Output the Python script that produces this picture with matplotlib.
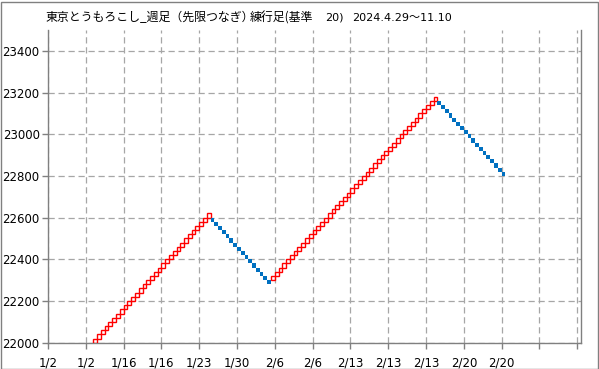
import numpy as np
import matplotlib
matplotlib.use("Agg")
import matplotlib.pyplot as plt
from matplotlib.patches import Rectangle

# 練行足 (renko) data: brick size 20, legs given by first / last brick low
brick_size = 20
leg_first_low = [22000, 22580, 22300, 23140]
leg_last_low = [22600, 22280, 23160, 22800]
leg_up = [True, False, True, False]
first_col = 12

xtick_pos = list(range(0, 141, 10))
xtick_labels = ["1/2", "1/2", "1/16", "1/16", "1/23", "1/30", "2/6", "2/6",
                "2/13", "2/13", "2/13", "2/20", "2/20", "", ""]
ytick_vals = list(range(22000, 23401, 200))

RED = "#FF0000"
BLUE = "#0070C0"
GRID = "#A6A6A6"
AXC = "#808080"

fig = plt.figure(figsize=(5.99, 3.69), dpi=100)
ax = fig.add_axes([48 / 599, 1 - 342.7 / 369, 533 / 599, 312.7 / 369])

col = first_col
for lo0, lo1, up in zip(leg_first_low, leg_last_low, leg_up):
    step = brick_size if up else -brick_size
    lows = np.arange(lo0, lo1 + step, step)
    cols = np.arange(col, col + len(lows))
    if up:
        ax.bar(cols, brick_size, bottom=lows, width=1, align="edge",
               facecolor="none", edgecolor=RED, linewidth=1.0, zorder=3)
    else:
        ax.bar(cols, brick_size, bottom=lows, width=1, align="edge",
               color=BLUE, linewidth=0, zorder=3)
    col += len(lows)

ax.set_xlim(0, 141)
ax.set_ylim(22000, 23500)
ax.set_xticks(xtick_pos)
ax.set_xticklabels(xtick_labels)
ax.set_yticks(ytick_vals)
ax.set_yticklabels([str(v) for v in ytick_vals])

ax.grid(True, color=GRID, linestyle=(0, (5, 3)), linewidth=0.9, zorder=0)
ax.set_axisbelow(True)
for side in ("left", "right", "bottom"):
    ax.spines[side].set_color(AXC)
    ax.spines[side].set_linewidth(1.0)
ax.spines["top"].set_visible(False)
ax.tick_params(axis="both", colors=AXC, length=4, width=1.0, labelsize=8.5,
               labelcolor="#000000")
ax.tick_params(axis="x", pad=6)
ax.tick_params(axis="y", pad=2)
for lbl in ax.get_xticklabels() + ax.get_yticklabels():
    lbl.set_family("DejaVu Sans")

# タイトル（部分ごとに配置）
ty = 1 - 18 / 369
cjk = ["Noto Sans CJK JP", "DejaVu Sans"]
fig.text(45 / 599, ty, "東京とうもろこし_週足（先限つなぎ）",
         family=cjk, fontsize=8.6, va="center")
fig.text(250 / 599, ty, "練行足(基準", family=cjk, fontsize=8.6, va="center")
fig.text(325 / 599, ty, "20)", family=["DejaVu Sans"], fontsize=8, va="center")
fig.text(352 / 599, ty, "2024.4.29〜11.10",
         family=["DejaVu Sans", "Noto Sans CJK JP"], fontsize=8, va="center")

fig.add_artist(Rectangle((0.5 / 599, 0.5 / 369), 597.5 / 599, 367 / 369,
                         transform=fig.transFigure, fill=False,
                         edgecolor=AXC, linewidth=1.0))

fig.savefig("out.png", dpi=100)
